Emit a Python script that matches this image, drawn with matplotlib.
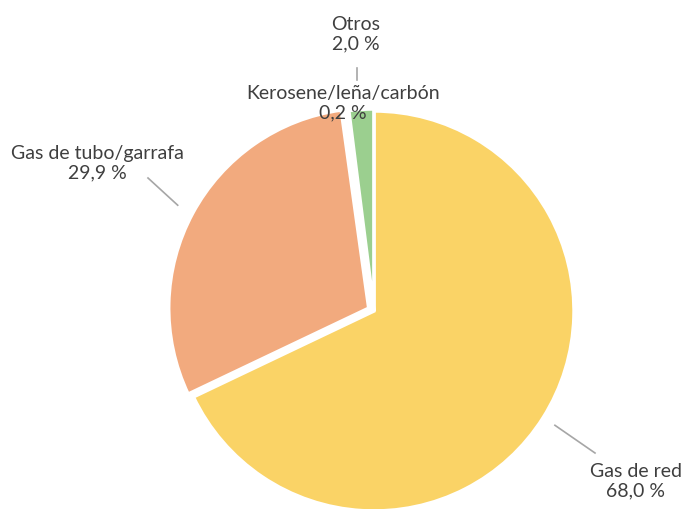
import numpy as np
from matplotlib import pyplot as plt

# datos
labels = ['Gas de red', 'Gas de tubo/garrafa', 'Kerosene/leña/carbón', 'Otros']
values = [68.0, 29.9, 0.2, 2.0]
colors = ['#FAD366', '#F2AA7E', '#F4F4F4', '#9BCF8F']
explode = [0, 0.03, 0, 0.01]

plt.rcParams['font.family'] = ['Lato', 'DejaVu Sans']
plt.rcParams['font.size'] = 14

fig = plt.figure(figsize=(6.87, 5.09), dpi=100)
ax = fig.add_axes([0, 0, 1, 1])

wedges, _ = ax.pie(values, colors=colors, explode=explode, startangle=90,
                   counterclock=False, radius=1.0,
                   wedgeprops=dict(edgecolor='white', linewidth=2.5))

ax.set_xlim(-1.87, 1.565)
ax.set_ylim(-0.99, 1.555)
ax.set_aspect('equal')
ax.axis('off')

# posiciones de etiquetas y lineas guia
text_pos = [(1.31, -0.85), (-1.385, 0.74), (-0.155, 1.04), (-0.09, 1.385)]
lead_start = [1.07, 1.085, None, 1.145]
lead_end = [(1.105, -0.71), (-1.13, 0.665), None, (-0.085, 1.215)]

for w, lab, v, tp, r0, le, ex in zip(wedges, labels, values, text_pos,
                                     lead_start, lead_end, explode):
    txt = lab + '\n' + f'{v:.1f}'.replace('.', ',') + ' %'
    ax.text(tp[0], tp[1], txt, ha='center', va='center', color='#3F3F3F',
            linespacing=1.15)
    if r0 is None:
        continue
    ang = np.deg2rad((w.theta1 + w.theta2) / 2)
    x0, y0 = (r0 + ex) * np.cos(ang), (r0 + ex) * np.sin(ang)
    if w is wedges[3]:
        x0 = le[0]
    ax.plot([x0, le[0]], [y0, le[1]], color='#A6A6A6', linewidth=1.2)

fig.savefig('out.png', dpi=100)
